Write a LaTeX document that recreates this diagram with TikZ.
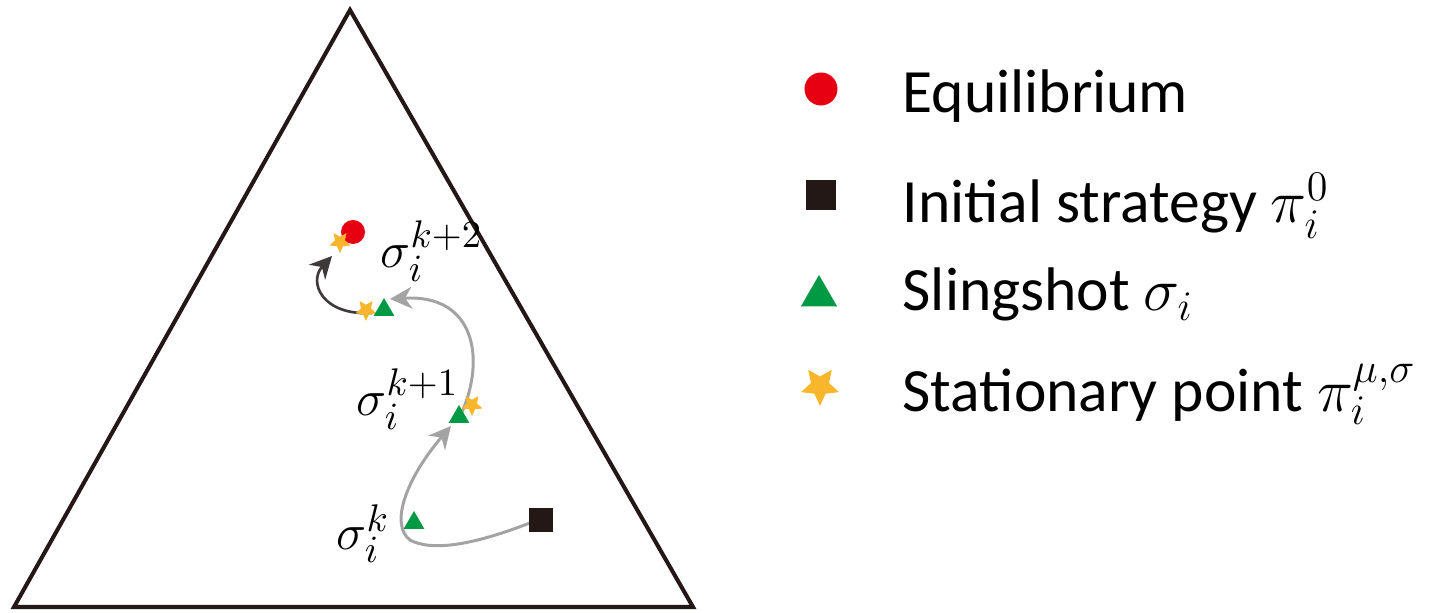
\documentclass[tikz,border=0pt]{standalone}
\usepackage{fontspec}
\setmainfont{Carlito}
\usetikzlibrary{shapes.geometric,arrows.meta}
\definecolor{eqred}{HTML}{E60012}
\definecolor{slgreen}{HTML}{009944}
\definecolor{stargold}{HTML}{F8B62D}
\definecolor{sqblack}{HTML}{231815}
\definecolor{curvegray}{HTML}{A3A3A3}
\definecolor{curvedark}{HTML}{3E3A39}
\tikzset{
  eqdot/.style={circle,fill=eqred,inner sep=0pt,minimum size=#1},
  initsq/.style={rectangle,fill=sqblack,inner sep=0pt,minimum size=#1},
  slingtri/.style={regular polygon,regular polygon sides=3,fill=slgreen,inner sep=0pt,minimum size=#1},
  statstar/.style={star,star points=5,star point ratio=2.1,shape border rotate=180,fill=stargold,inner sep=0pt,minimum size=#1},
  grayflow/.style={draw=curvegray,line width=0.85pt,-{Stealth[length=2.2mm,width=2.2mm,inset=0.7mm]}},
  darkflow/.style={draw=curvedark,line width=0.75pt,-{Stealth[length=2.2mm,width=2.2mm,inset=0.7mm]}},
  simplex/.style={draw=sqblack,line width=1.15pt},
  siglabel/.style={anchor=base west,inner sep=0pt,font=\fontsize{15}{18}\selectfont},
  legtext/.style={anchor=base west,inner sep=0pt,font=\fontsize{17.5}{21}\selectfont},
}
\begin{document}
\begin{tikzpicture}[x=0.01cm,y=-0.01cm]
\useasboundingbox (0,0) rectangle (1451,613);
% simplex
\coordinate (apex) at (350,10);
\coordinate (bl) at (14,607);
\coordinate (br) at (693,607);
\draw[simplex] (apex) -- (bl) -- (br) -- cycle;

% curves (drawn first, markers on top)
\coordinate (c1s) at (540,519);
\coordinate (c1m) at (410,540);
\coordinate (c1e) at (451,426);
\coordinate (c2s) at (462,412);
\coordinate (c2e) at (390,299);
\coordinate (c3s) at (372,313);
\coordinate (c3e) at (332,256);
\draw[grayflow] (c1s) .. controls (500,535) and (440,556) .. (c1m) .. controls (390,525) and (405,480) .. (c1e);
\draw[grayflow] (c2s) .. controls (485,360) and (476,294) .. (c2e);
\draw[darkflow] (c3s) .. controls (322,316) and (308,282) .. (c3e);

% markers in the simplex
\node[eqdot=0.24cm] (eq) at (353,232) {};
\node[statstar=0.22cm] (st3) at (340,242) {};
\node[statstar=0.22cm] (st2) at (366,310) {};
\node[slingtri=0.24cm] (tr2) at (384,310) {};
\node[statstar=0.22cm] (st1) at (472,405) {};
\node[slingtri=0.24cm] (tr1) at (459,417) {};
\node[slingtri=0.24cm] (tr0) at (414,523) {};
\node[initsq=0.23cm] (init) at (541,520) {};

% labels
\node[siglabel] (lk2) at (380,268) {$\sigma_i^{k+2}$};
\node[siglabel] (lk1) at (356,416) {$\sigma_i^{k+1}$};
\node[siglabel] (lk0) at (336,550) {$\sigma_i^{k}$};

% legend
\node[eqdot=0.33cm] (leq) at (821,89) {};
\node[initsq=0.30cm] (lsq) at (821,195) {};
\node[slingtri=0.42cm] (ltr) at (819,296) {};
\node[statstar=0.40cm] (lst) at (820,386) {};
\node[legtext] (teq) at (902,113) {Equilibrium};
\node[legtext] (tsq) at (902,223) {Initial strategy $\pi_i^{0}$};
\node[legtext] (ttr) at (902,311) {Slingshot $\sigma_i$};
\node[legtext] (tst) at (902,412) {Stationary point $\pi_i^{\mu,\sigma}$};
\end{tikzpicture}
\end{document}
